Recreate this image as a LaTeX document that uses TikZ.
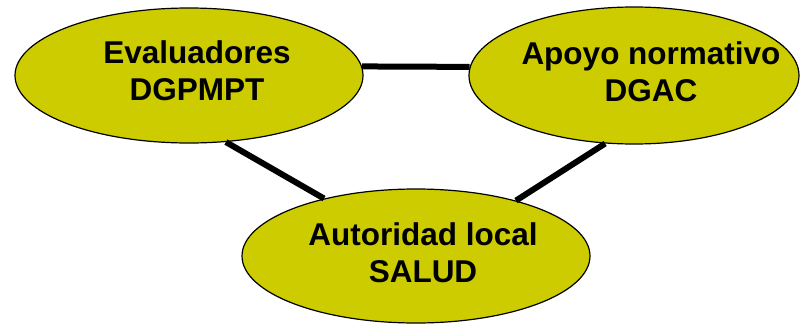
\documentclass[tikz,border=0pt]{standalone}
\usepackage{fontspec}
\setmainfont{Liberation Sans}
\usetikzlibrary{shapes.geometric}
\definecolor{olivefill}{RGB}{204,204,0}
\begin{document}
\begin{tikzpicture}[x=1pt,y=-1pt,
  bub/.style={ellipse, draw=black, line width=1.2pt, fill=olivefill, inner sep=0pt},
  txt/.style={font=\bfseries\fontsize{31.5}{37}\selectfont, align=center, text=black, inner sep=0pt},
  link/.style={line width=6pt, draw=black}]
\useasboundingbox (0,0) rectangle (803,324);
\node[bub, minimum width=348pt, minimum height=135pt,
      label={[txt, xshift=8pt, yshift=4.5pt]center:Evaluadores\\DGPMPT}] (L) at (189,75.5) {};
\node[bub, minimum width=330pt, minimum height=137pt,
      label={[txt, xshift=17pt, yshift=4pt]center:Apoyo normativo\\DGAC}] (R) at (634,75.5) {};
\node[bub, minimum width=348pt, minimum height=134pt,
      label={[txt, xshift=7pt, yshift=3pt]center:Autoridad local\\SALUD}] (B) at (416,256) {};
\draw[link] (L.3) -- (R.177);
\draw[link] (L.-61) -- (B.148);
\draw[link] (R.-113) -- (B.29);
\end{tikzpicture}
\end{document}
